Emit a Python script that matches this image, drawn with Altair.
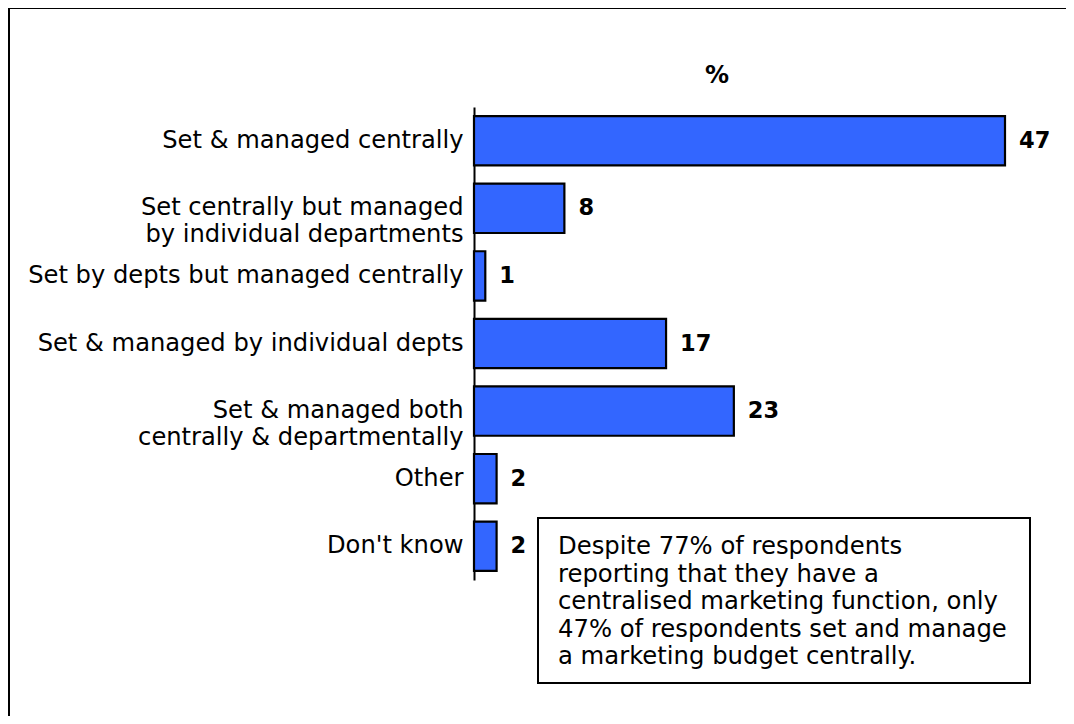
import altair as alt
import pandas as pd

categories = [
    "Set & managed centrally",
    "Set centrally but managed|by individual departments",
    "Set by depts but managed centrally",
    "Set & managed by individual depts",
    "Set & managed both|centrally & departmentally",
    "Other",
    "Don't know",
]
values = [47, 8, 1, 17, 23, 2, 2]
note_lines = [
    "Despite 77% of respondents",
    "reporting that they have a",
    "centralised marketing function, only",
    "47% of respondents set and manage",
    "a marketing budget centrally.",
]

df = pd.DataFrame({"cat": categories, "val": values})

FONT = "DejaVu Sans"
W, H = 1058, 708

xs = alt.Scale(domain=[0, 47], range=[466, 997], nice=False, zero=True)
ys = alt.Scale(domain=categories, range=[99, 572], paddingInner=0.27, paddingOuter=0.135)

base = alt.Chart(df)

bars = base.mark_bar(color="#3366FF", stroke="black", strokeWidth=2.2).encode(
    y=alt.Y("cat:N", sort=None, scale=ys,
            axis=alt.Axis(title=None, orient="left", offset=-466, ticks=False,
                          domainColor="black", domainWidth=2, labelFont=FONT,
                          labelFontSize=24.2, labelColor="black", labelPadding=11,
                          labelAlign="right", labelBaseline="middle",
                          labelLineHeight=27, labelLimit=0,
                          labelExpr="split(datum.label, '|')")),
    x=alt.X("val:Q", scale=xs, axis=None),
    x2=alt.value(466),
)

vals = base.mark_text(align="left", baseline="middle", dx=14, font=FONT,
                      fontSize=22.5, fontWeight="bold", color="black").encode(
    y=alt.Y("cat:N", sort=None, scale=ys),
    x=alt.X("val:Q", scale=xs),
    text=alt.Text("val:Q"),
)

pct = alt.Chart(pd.DataFrame({"t": ["%"]})).mark_text(
    font=FONT, fontSize=24, fontWeight="bold", color="black", baseline="middle"
).encode(x=alt.value(709), y=alt.value(68), text="t:N")

frame_l = alt.Chart(pd.DataFrame({"a": [0]})).mark_rule(color="black", strokeWidth=2).encode(
    x=alt.value(1), y=alt.value(0), y2=alt.value(H + 10))
frame_t = alt.Chart(pd.DataFrame({"a": [0]})).mark_rule(color="black", strokeWidth=2).encode(
    y=alt.value(0), x=alt.value(0), x2=alt.value(W + 10))

box = alt.Chart(pd.DataFrame({"a": [0]})).mark_rect(
    fill="white", stroke="black", strokeWidth=2
).encode(x=alt.value(530), x2=alt.value(1022), y=alt.value(510), y2=alt.value(675))

note = alt.Chart(pd.DataFrame({"t": ["\n".join(note_lines)]})).mark_text(
    font=FONT, fontSize=24.3, color="black", align="left", baseline="top",
    lineBreak="\n", lineHeight=27.5
).encode(x=alt.value(550), y=alt.value(527), text="t:N")

chart = alt.layer(frame_l, frame_t, bars, vals, pct, box, note).properties(
    width=W, height=H, autosize="none", padding=0
).configure_view(stroke=None)

chart.save("out.html", embed_options={"renderer": "svg", "actions": False})
